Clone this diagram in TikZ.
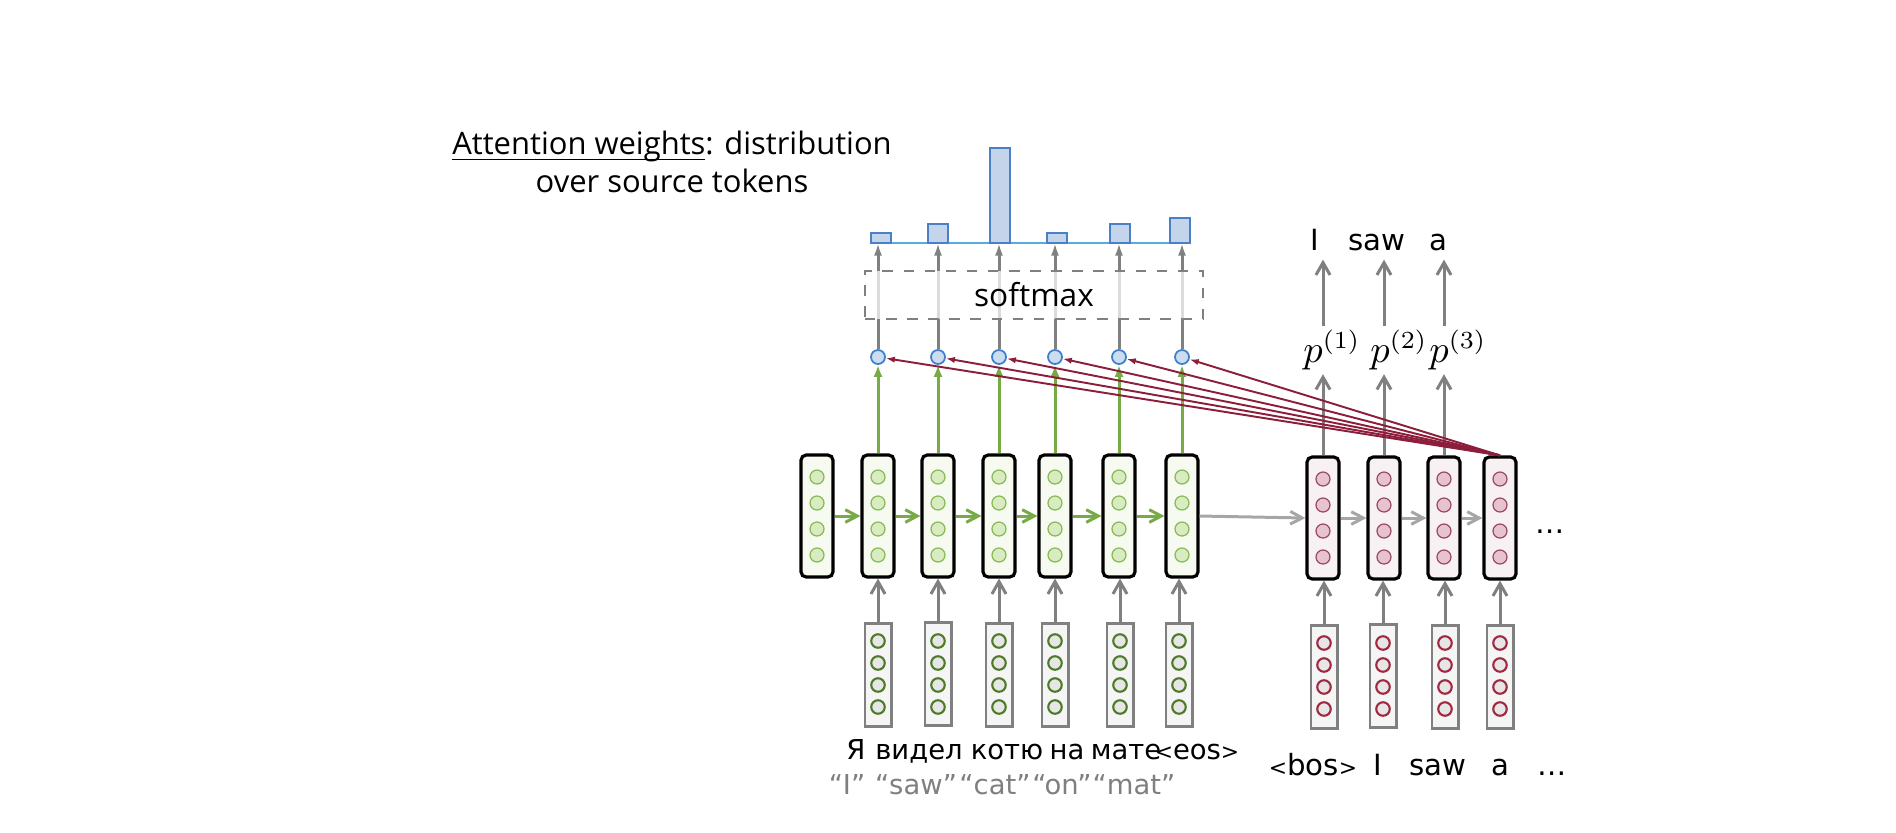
\documentclass[tikz,border=0pt]{standalone}
\usepackage{fontspec}
\setmainfont{Open Sans}
\newfontfamily\comicfont{DejaVu Sans}
\usetikzlibrary{arrows.meta}

\definecolor{encgreen}{HTML}{78AB46}
\definecolor{encfill}{HTML}{F6FAF0}
\definecolor{encdotfill}{HTML}{D8EBC1}
\definecolor{encdotline}{HTML}{88BB55}
\definecolor{decfill}{HTML}{F8F1F3}
\definecolor{decdotfill}{HTML}{E7C3CD}
\definecolor{decdotline}{HTML}{9A4A66}
\definecolor{attred}{HTML}{8C1D3B}
\definecolor{attblue}{HTML}{3F7FCB}
\definecolor{attfill}{HTML}{CBDDF1}
\definecolor{barfill}{HTML}{C4D5EB}
\definecolor{barline}{HTML}{4A80C8}
\definecolor{baseblue}{HTML}{5AAAE2}
\definecolor{arrgrey}{HTML}{808080}
\definecolor{lightarr}{HTML}{A6A6A6}
\definecolor{inboxfill}{HTML}{F5F5F5}
\definecolor{indotfill}{HTML}{E6E6E6}
\definecolor{srcdot}{HTML}{4F7A28}
\definecolor{tgtdot}{HTML}{A0283F}
\definecolor{wordgrey}{HTML}{7F7F7F}

\newcommand{\lt}{{\fontsize{6.2}{8}\selectfont\textless}}
\newcommand{\gt}{{\fontsize{6.2}{8}\selectfont\textgreater}}

\begin{document}
\begin{tikzpicture}[x=0.01cm, y=-0.01cm,
    hid/.style={draw=black, line width=0.9pt, rounded corners=1.5pt, minimum width=0.32cm, minimum height=1.22cm, inner sep=0pt},
    inp/.style={draw=arrgrey, line width=0.85pt, fill=inboxfill, minimum width=0.26cm, minimum height=1.02cm, inner sep=0pt},
    unit/.style={circle, minimum size=0.14cm, inner sep=0pt, line width=0.35pt},
    inunit/.style={circle, minimum size=0.135cm, inner sep=0pt, line width=0.6pt, fill=indotfill},
    att/.style={circle, draw=attblue, fill=attfill, line width=0.5pt, minimum size=0.14cm, inner sep=0pt},
    bar/.style={draw=barline, fill=barfill, line width=0.45pt},
    word/.style={font=\comicfont\fontsize{8.3}{10}\selectfont, inner sep=1pt, text height=1.6ex, text depth=0.25ex},
    src/.style={word, font=\comicfont\fontsize{7.8}{10}\selectfont},
    gloss/.style={word, text=wordgrey, font=\comicfont\fontsize{7.8}{10}\selectfont},
    prob/.style={font=\fontsize{10.5}{12}\selectfont, inner sep=1pt},
    up/.style={-{Straight Barb[length=3.5pt,width=4pt]}, arrgrey, line width=0.85pt},
    upfill/.style={-{Latex[length=3.6pt,width=2.3pt]}, arrgrey, line width=0.85pt},
    rec/.style={-{Straight Barb[length=3.4pt,width=3.6pt]}, encgreen, line width=0.85pt},
    dechor/.style={-{Straight Barb[length=3.4pt,width=3.6pt]}, lightarr, line width=0.85pt},
    attin/.style={-{Latex[length=3.4pt,width=2.6pt]}, encgreen, line width=0.85pt},
    score/.style={-{Latex[length=2.6pt,width=1.8pt]}, attred, line width=0.55pt}]
    \useasboundingbox (0,0) rectangle (1896,832);

    % title
    \node[align=center, font=\fontsize{8.8}{11}\selectfont] (title) at (672,162) {\underline{\smash{Attention weights}}: distribution\\over source tokens};

    % encoder and decoder states
    \node[hid, fill=encfill] (enc0) at (817,516) {};
    \node[hid, fill=encfill] (enc1) at (878,516) {};
    \node[hid, fill=encfill] (enc2) at (938,516) {};
    \node[hid, fill=encfill] (enc3) at (999,516) {};
    \node[hid, fill=encfill] (enc4) at (1055,516) {};
    \node[hid, fill=encfill] (enc5) at (1119,516) {};
    \node[hid, fill=encfill] (enc6) at (1182,516) {};
    \node[hid, fill=decfill] (dec1) at (1323,518) {};
    \node[hid, fill=decfill] (dec2) at (1384,518) {};
    \node[hid, fill=decfill] (dec3) at (1444,518) {};
    \node[hid, fill=decfill] (dec4) at (1500,518) {};
    \foreach \x in {817,878,938,999,1055,1119,1182}
        \foreach \y in {477,503,529,555}
            \node[unit, draw=encdotline, fill=encdotfill] at (\x,\y) {};
    \foreach \x in {1323,1384,1444,1500}
        \foreach \y in {479,505,531,557}
            \node[unit, draw=decdotline, fill=decdotfill] at (\x,\y) {};
    \node[word] (more) at (1550,521) {\dots};

    % embeddings
    \node[inp] (src1) at (878,675) {};
    \node[inp] (src2) at (938,674) {};
    \node[inp] (src3) at (999,675) {};
    \node[inp] (src4) at (1055,675) {};
    \node[inp] (src5) at (1120,675) {};
    \node[inp] (src6) at (1179,675) {};
    \node[inp] (tgt1) at (1324,677) {};
    \node[inp] (tgt2) at (1383,676) {};
    \node[inp] (tgt3) at (1445,677) {};
    \node[inp] (tgt4) at (1500,677) {};
    \foreach \x in {878,938,999,1055,1120,1179}
        \foreach \y in {641,663,685,707}
            \node[inunit, draw=srcdot] at (\x,\y) {};
    \foreach \x in {1324,1383,1445,1500}
        \foreach \y in {643,665,687,709}
            \node[inunit, draw=tgtdot] at (\x,\y) {};

    % words
    \node[src] (s1) at (856,747) {Я};
    \node[src] (s2) at (919,747) {видел};
    \node[src] (s3) at (1007,747) {котю};
    \node[src] (s4) at (1067,747) {на};
    \node[src] (s5) at (1126,747) {мате};
    \node[src] (s6) at (1197,747) {\lt eos\gt};
    \node[gloss] (g1) at (847,782) {“I”};
    \node[gloss] (g2) at (916,782) {“saw”};
    \node[gloss] (g3) at (995,782) {“cat”};
    \node[gloss] (g4) at (1062,782) {“on”};
    \node[gloss] (g5) at (1134,782) {“mat”};
    \node[word] (t1) at (1313,763) {\lt bos\gt};
    \node[word] (t2) at (1378,763) {I};
    \node[word] (t3) at (1438,763) {saw};
    \node[word] (t4) at (1500,763) {a};
    \node[word] (t5) at (1552,763) {\dots};

    % outputs
    \node[prob] (p1) at (1332,350) {$p^{(1)}$};
    \node[prob] (p2) at (1399,350) {$p^{(2)}$};
    \node[prob] (p3) at (1458,350) {$p^{(3)}$};
    \node[word] (o1) at (1315,238) {I};
    \node[word] (o2) at (1377,238) {saw};
    \node[word] (o3) at (1438,238) {a};

    % attention scores and weights
    \node[att] (a1) at (878,357) {};
    \node[att] (a2) at (938,357) {};
    \node[att] (a3) at (999,357) {};
    \node[att] (a4) at (1055,357) {};
    \node[att] (a5) at (1119,357) {};
    \node[att] (a6) at (1182,357) {};
    \coordinate (base) at (871,243);
    \draw[baseblue, line width=0.5pt] (base) -- (1190,243);
    \draw[bar] (871,243) rectangle (891,233);
    \draw[bar] (928,243) rectangle (948,224);
    \draw[bar] (990,243) rectangle (1010,148);
    \draw[bar] (1047,243) rectangle (1067,233);
    \draw[bar] (1110,243) rectangle (1130,224);
    \draw[bar] (1170,243) rectangle (1190,218);
    \foreach \i in {1,...,6}
        \draw[upfill] (a\i.north) -- (a\i.north |- base);
    \node[draw=arrgrey, dashed, line width=0.4pt, fill=white, fill opacity=0.72, text opacity=1,
        minimum width=3.38cm, minimum height=0.46cm, font=\fontsize{9}{10}\selectfont] (soft) at (1034,295) {softmax};

    % connections
    \draw[rec] (enc0.east) -- (enc1.west);
    \draw[rec] (enc1.east) -- (enc2.west);
    \draw[rec] (enc2.east) -- (enc3.west);
    \draw[rec] (enc3.east) -- (enc4.west);
    \draw[rec] (enc4.east) -- (enc5.west);
    \draw[rec] (enc5.east) -- (enc6.west);
    \draw[dechor] (enc6.east) -- (dec1.west);
    \draw[dechor] (dec1.east) -- (dec2.west);
    \draw[dechor] (dec2.east) -- (dec3.west);
    \draw[dechor] (dec3.east) -- (dec4.west);
    \foreach \i in {1,...,6}
        \draw[up] (src\i.north) -- (src\i.north |- enc\i.south);
    \foreach \i in {1,...,4}
        \draw[up] (tgt\i.north) -- (tgt\i.north |- dec\i.south);
    \foreach \i in {1,...,6}
        \draw[attin] (enc\i.north) -- (a\i.south);
    \foreach \i in {1,...,3} {
        \draw[up] (dec\i.north) -- (dec\i.north |- p\i.south);
        \draw[up] (dec\i.north |- p\i.north) -- (dec\i.north |- o\i.south);
    }
    \foreach \i in {1,...,6}
        \draw[score] (dec4.north) -- (a\i);
\end{tikzpicture}
\end{document}
